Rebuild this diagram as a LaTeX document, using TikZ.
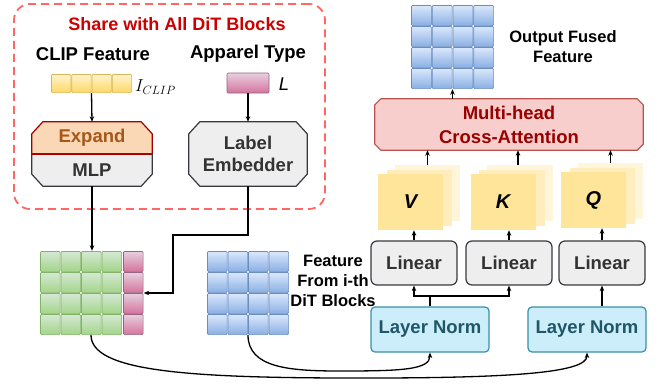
\documentclass[tikz,border=0pt]{standalone}
\usepackage{fontspec}
\setmainfont{Liberation Sans}
\usetikzlibrary{arrows.meta}
\pgfdeclarelayer{bg}
\pgfsetlayers{bg,main}
\definecolor{dashred}{HTML}{FF6666}
\definecolor{titlered}{HTML}{CC0000}
\definecolor{grayfill}{HTML}{EEEEEE}
\definecolor{graydraw}{HTML}{36393D}
\definecolor{graytext}{HTML}{333333}
\definecolor{expfill}{HTML}{FAD7B5}
\definecolor{expdraw}{HTML}{A20000}
\definecolor{exptext}{HTML}{A8571A}
\definecolor{mhfill}{HTML}{F8CECC}
\definecolor{mhdraw}{HTML}{B85450}
\definecolor{mhtext}{HTML}{990000}
\definecolor{lnfill}{HTML}{CCEEFB}
\definecolor{lndraw}{HTML}{3A8FA8}
\definecolor{lntext}{HTML}{1F5766}
\definecolor{qkvf}{HTML}{FFE599}
\definecolor{qkvm}{HTML}{FFEDBD}
\definecolor{qkvb}{HTML}{FFF5DA}
\definecolor{gtop}{HTML}{D5E8D4}
\definecolor{gbot}{HTML}{A4D58A}
\definecolor{gdraw}{HTML}{82B366}
\definecolor{btop}{HTML}{DAE8FC}
\definecolor{bbot}{HTML}{8AAFE3}
\definecolor{bdraw}{HTML}{6C8EBF}
\definecolor{ptop}{HTML}{E6D0DE}
\definecolor{pbot}{HTML}{D5739D}
\definecolor{pdraw}{HTML}{996185}
\definecolor{ytop}{HTML}{FFF2CC}
\definecolor{ybot}{HTML}{FFD966}
\definecolor{ydraw}{HTML}{D6B656}
\newcommand\cellgrid[7]{%
  \foreach \ci in {1,...,#4}{\foreach \cj in {1,...,#5}{%
    \path[#1] ({#2+(\ci-1)*#6+0.4},{#3+(\cj-1)*#7+0.4}) rectangle ({#2+\ci*#6-0.4},{#3+\cj*#7-0.4});}}}
\begin{document}
\begin{tikzpicture}[x=1pt,y=-1pt,
  every node/.style={inner sep=0pt},
  arr/.style={-{Stealth[length=5.5pt,width=4.5pt]}, line width=1.3pt, black},
  ln/.style={line width=1.3pt, black},
  bigtxt/.style={font=\fontsize{18.5}{22}\selectfont\bfseries},
  medtxt/.style={font=\fontsize{16.5}{20}\selectfont\bfseries, align=center},
  greencell/.style={draw=gdraw, line width=0.7pt, top color=gtop, bottom color=gbot, rounded corners=1pt},
  bluecell/.style={draw=bdraw, line width=0.7pt, top color=btop, bottom color=bbot, rounded corners=1pt},
  pinkcell/.style={draw=pdraw, line width=0.7pt, top color=ptop, bottom color=pbot, rounded corners=1pt},
  yellowcell/.style={draw=ydraw, line width=0.7pt, top color=ytop, bottom color=ybot, rounded corners=1pt},
  linbox/.style={bigtxt, text=graytext, draw=graydraw, fill=grayfill, line width=1.2pt, rounded corners=6pt, minimum width=86pt, minimum height=44pt},
  lnbox/.style={bigtxt, text=lntext, draw=lndraw, fill=lnfill, line width=1.2pt, rounded corners=4pt, minimum width=118pt, minimum height=45pt},
  qkvbox/.style={font=\fontsize{20}{22}\selectfont\bfseries\itshape, fill=qkvf, minimum width=65pt, minimum height=56pt},
  ]
\useasboundingbox (0,0) rectangle (665,386);

% shared region
\node[draw=dashred, line width=1.8pt, dash pattern=on 8pt off 5pt, rounded corners=16pt,
      minimum width=311pt, minimum height=205pt] (share) at (169.5,106.5) {};
\node[text=titlered, font=\fontsize{18}{22}\selectfont\bfseries] (title) at (177,24) {Share with All DiT Blocks};
\node[bigtxt] (clipttl) at (93,54) {CLIP Feature};
\node[bigtxt] (appttl) at (248,54) {Apparel Type};

% CLIP feature strip
\node[minimum width=81pt, minimum height=19pt] (clip) at (91.5,83.5) {};
\cellgrid{yellowcell}{51}{74}{4}{1}{20.25}{19}
\node[anchor=west, font=\fontsize{17}{18}\selectfont] (iclip) at (135,87) {$I_{CLIP}$};

% apparel label
\node[pinkcell, minimum width=42pt, minimum height=20pt] (lab) at (248,83) {};
\node[font=\fontsize{18.5}{22}\selectfont\itshape] (ltxt) at (284,84) {L};

% Expand / MLP
\node[bigtxt, text=exptext, minimum width=120pt, minimum height=32pt] (expand) at (92,138) {Expand};
\node[bigtxt, text=graytext, minimum width=120pt, minimum height=32pt] (mlp) at (92,170) {MLP};
% Label embedder
\node[bigtxt, text=graytext, align=center, minimum width=118pt, minimum height=64pt] (emb) at (248,154) {Label\\Embedder};

\begin{pgfonlayer}{bg}
  \path[fill=expfill, draw=expdraw, line width=1.2pt]
    ([xshift=11pt]expand.north west) -- ([xshift=-11pt]expand.north east) -- ([yshift=-12pt]expand.north east)
    -- (expand.south east) -- (expand.south west) -- ([yshift=-12pt]expand.north west) -- cycle;
  \path[fill=grayfill, draw=graydraw, line width=1.2pt]
    (mlp.north west) -- (mlp.north east) -- ([yshift=12pt]mlp.south east) -- ([xshift=-11pt]mlp.south east)
    -- ([xshift=11pt]mlp.south west) -- ([yshift=12pt]mlp.south west) -- cycle;
  \path[fill=grayfill, draw=graydraw, line width=1.2pt]
    ([xshift=11pt]emb.north west) -- ([xshift=-11pt]emb.north east) -- ([yshift=-12pt]emb.north east)
    -- ([yshift=12pt]emb.south east) -- ([xshift=-11pt]emb.south east) -- ([xshift=11pt]emb.south west)
    -- ([yshift=12pt]emb.south west) -- ([yshift=-12pt]emb.north west) -- cycle;
  \draw[expdraw, line width=1.2pt] (expand.south west) -- (expand.south east);
\end{pgfonlayer}

% Grids
\node[minimum width=82pt, minimum height=84pt] (green) at (81,293) {};
\cellgrid{greencell}{40}{251}{4}{4}{20.5}{21}
\node[minimum width=20.5pt, minimum height=84pt] (pinkcol) at (133.25,293) {};
\cellgrid{pinkcell}{123}{251}{1}{4}{20.5}{21}
\node[minimum width=82pt, minimum height=84pt] (feat) at (248,293) {};
\cellgrid{bluecell}{207}{251}{4}{4}{20.5}{21}
\node[medtxt] (feattxt) at (333,281) {Feature\\From i-th\\DiT Blocks};

\node[minimum width=83pt, minimum height=84pt] (out) at (452.5,47) {};
\cellgrid{bluecell}{411}{5}{4}{4}{20.75}{21}
\node[medtxt] (outtxt) at (563,47) {Output Fused\\Feature};

% Multi-head cross attention
\node[font=\fontsize{18.5}{24}\selectfont\bfseries, text=mhtext, align=center, minimum width=268pt, minimum height=51pt] (mh) at (509,124.5) {Multi-head\\Cross-Attention};
\begin{pgfonlayer}{bg}
  \path[fill=mhfill, draw=mhdraw, line width=1.2pt]
    ([xshift=6pt]mh.north west) -- ([xshift=-6pt]mh.north east) -- ([yshift=-6pt]mh.north east)
    -- ([yshift=6pt]mh.south east) -- ([xshift=-6pt]mh.south east) -- ([xshift=6pt]mh.south west)
    -- ([yshift=6pt]mh.south west) -- ([yshift=-6pt]mh.north west) -- cycle;
\end{pgfonlayer}

% V K Q stacks
\node[qkvbox] (v) at (410.5,202) {V};
\node[qkvbox] (k) at (503,202) {K};
\node[qkvbox] (q) at (593.5,200) {Q};
\begin{pgfonlayer}{bg}
  \foreach \n in {v,k,q}{
    \path[fill=qkvb] ([xshift=17pt,yshift=9pt]\n.south west) rectangle ([xshift=17pt,yshift=9pt]\n.north east);
    \path[fill=qkvm] ([xshift=9pt,yshift=4pt]\n.south west) rectangle ([xshift=9pt,yshift=4pt]\n.north east);
  }
\end{pgfonlayer}
\coordinate (vtop) at ([xshift=17pt,yshift=9pt]v.north);
\coordinate (ktop) at ([xshift=15pt,yshift=9pt]k.north);
\coordinate (qtop) at ([xshift=17pt,yshift=9pt]q.north);

% Linear and layer norm
\node[linbox] (lin1) at (414,263) {Linear};
\node[linbox] (lin2) at (509,263) {Linear};
\node[linbox] (lin3) at (602,263) {Linear};
\node[lnbox] (ln1) at (430,329.5) {Layer Norm};
\node[lnbox] (ln2) at (587,329.5) {Layer Norm};

% connectors
\draw[arr] (clip.south) -- (expand.north);
\draw[arr] (lab.south) -- (emb.north);
\draw[arr] (mlp.south) -- (mlp.south |- green.north);
\coordinate (c1) at (173,235);
\draw[arr] (emb.south) |- (c1) |- (pinkcol.east);
\draw[arr] (out.south |- mh.north) -- (out.south);
\draw[arr] (vtop) -- (vtop |- mh.south);
\draw[arr] (ktop) -- (ktop |- mh.south);
\draw[arr] (qtop) -- (qtop |- mh.south);
\draw[arr] (lin1.north) -- (lin1.north |- v.south);
\draw[arr] (lin2.north) -- (lin2.north |- k.south);
\draw[arr] (lin3.north) -- (lin3.north |- q.south);
\coordinate (j) at (430,296);
\draw[ln] (ln1.north) -- (j);
\draw[arr] (j) -| (lin1.south);
\draw[arr] (j) -| (lin2.south);
\draw[arr] (lin3.south |- ln2.north) -- (lin3.south);
\coordinate (gb) at (91,335);
\coordinate (bb) at (248,335);
\coordinate (m1) at (340,378);
\coordinate (m2) at (340,371);
\draw[arr] (gb) .. controls (91,370) and (180,377.5) .. (m1) .. controls (500,378.5) and (587,374) .. (ln2.south);
\draw[arr] (bb) .. controls (248,368) and (290,371) .. (m2) .. controls (400,371) and (430,370) .. (ln1.south);
\end{tikzpicture}
\end{document}
